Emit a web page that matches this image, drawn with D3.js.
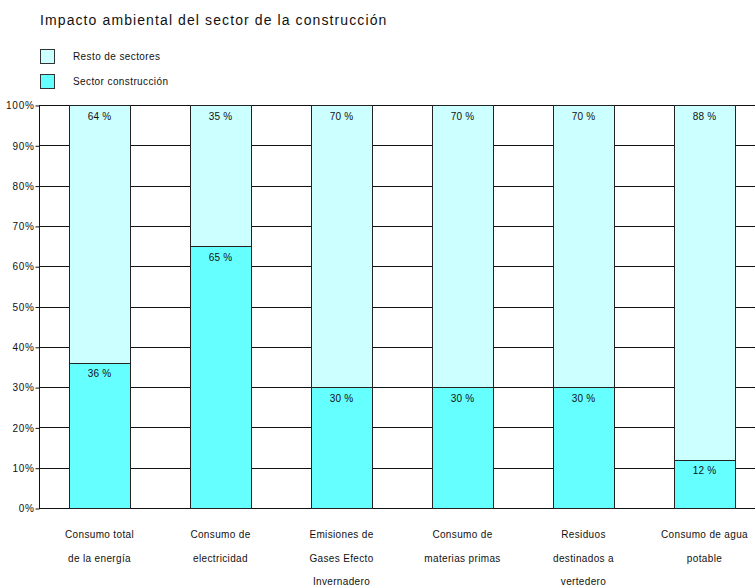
<!DOCTYPE html>
<html>
<head>
<meta charset="utf-8">
<script src="https://cdn.jsdelivr.net/npm/d3@7"></script>
<style>
  body { margin: 0; background: #fff; }
  svg text { font-family: Arial, "Liberation Sans", sans-serif; fill: #111; }
</style>
</head>
<body>
<div id="chart"></div>
<script>
// chart data
const categories = [
  ["Consumo total", "de la energía"],
  ["Consumo de", "electricidad"],
  ["Emisiones de", "Gases Efecto", "Invernadero"],
  ["Consumo de", "materias primas"],
  ["Residuos", "destinados a", "vertedero"],
  ["Consumo de agua", "potable"]
];
const sectorConstruccion = [36, 65, 30, 30, 30, 12];
const restoSectores = [64, 35, 70, 70, 70, 88];
const seriesNames = ["Resto de sectores", "Sector construcción"];
const seriesColors = ["#ccffff", "#66ffff"];
const yTicks = [0, 10, 20, 30, 40, 50, 60, 70, 80, 90, 100];

const width = 755, height = 587;
const margin = {left: 39, top: 105, bottom: 79};
const bandStep = 121;

const svg = d3.select("#chart").append("svg")
  .attr("width", width)
  .attr("height", height);

// title
svg.append("text")
  .attr("x", 40)
  .attr("y", 25)
  .attr("font-size", 14)
  .attr("letter-spacing", 1.1)
  .text("Impacto ambiental del sector de la construcción");

// legend
seriesNames.forEach(function (name, i) {
  const ly = 49 + i * 25;
  svg.append("rect")
    .attr("x", 40.5).attr("y", ly + 0.5)
    .attr("width", 14).attr("height", 14)
    .attr("fill", seriesColors[i])
    .attr("stroke", "#333");
  svg.append("text")
    .attr("x", 73).attr("y", ly + 11)
    .attr("font-size", 10)
    .attr("letter-spacing", 0.4)
    .text(name);
});

const x = d3.scaleBand()
  .domain(d3.range(categories.length))
  .range([margin.left, margin.left + bandStep * categories.length])
  .paddingInner(0.5)
  .paddingOuter(0.25);

const y = d3.scaleLinear()
  .domain([0, 100])
  .range([height - margin.bottom, margin.top]);

// gridlines
svg.append("g")
  .selectAll("line")
  .data(yTicks)
  .enter().append("line")
  .attr("x1", margin.left).attr("x2", width)
  .attr("y1", function (d) { return Math.round(y(d)) + 0.5; })
  .attr("y2", function (d) { return Math.round(y(d)) + 0.5; })
  .attr("stroke", "#111");

// y axis
const yAxis = d3.axisLeft(y)
  .tickValues(yTicks)
  .tickFormat(function (d) { return d + "%"; })
  .tickSize(4)
  .tickPadding(1);

const gy = svg.append("g")
  .attr("transform", "translate(" + (margin.left + 0.5) + ",0.5)")
  .call(yAxis);
gy.selectAll("path, line").attr("stroke", "#111");
gy.selectAll("text")
  .attr("font-size", 10)
  .attr("letter-spacing", 0.7)
  .style("font-family", "Arial, 'Liberation Sans', sans-serif");
gy.select(".domain").attr("d", "M0," + y(0) + "V" + y(100));

// stacked bars
const stackData = categories.map(function (c, i) {
  return {i: i, construccion: sectorConstruccion[i], resto: restoSectores[i]};
});
const stack = d3.stack().keys(["construccion", "resto"]);
const series = stack(stackData);
const fills = {construccion: seriesColors[1], resto: seriesColors[0]};

series.forEach(function (s) {
  const g = svg.append("g");
  g.selectAll("rect")
    .data(s)
    .enter().append("rect")
    .attr("x", function (d) { return Math.round(x(d.data.i)) + 0.5; })
    .attr("y", function (d) { return Math.round(y(d[1])) + 0.5; })
    .attr("width", Math.round(x.bandwidth()))
    .attr("height", function (d) { return Math.round(y(d[0])) - Math.round(y(d[1])); })
    .attr("fill", fills[s.key])
    .attr("stroke", "#222");
  g.selectAll("text")
    .data(s)
    .enter().append("text")
    .attr("x", function (d) { return x(d.data.i) + x.bandwidth() / 2; })
    .attr("y", function (d) { return y(d[1]) + 14.5; })
    .attr("text-anchor", "middle")
    .attr("font-size", 10)
    .attr("letter-spacing", 0.2)
    .text(function (d) { return (d[1] - d[0]) + " %"; });
});

// category labels
categories.forEach(function (lines, i) {
  lines.forEach(function (line, j) {
    svg.append("text")
      .attr("x", x(i) + x.bandwidth() / 2)
      .attr("y", 538 + j * 23.5)
      .attr("text-anchor", "middle")
      .attr("font-size", 10)
      .attr("letter-spacing", 0.35)
      .text(line);
  });
});
</script>
</body>
</html>
